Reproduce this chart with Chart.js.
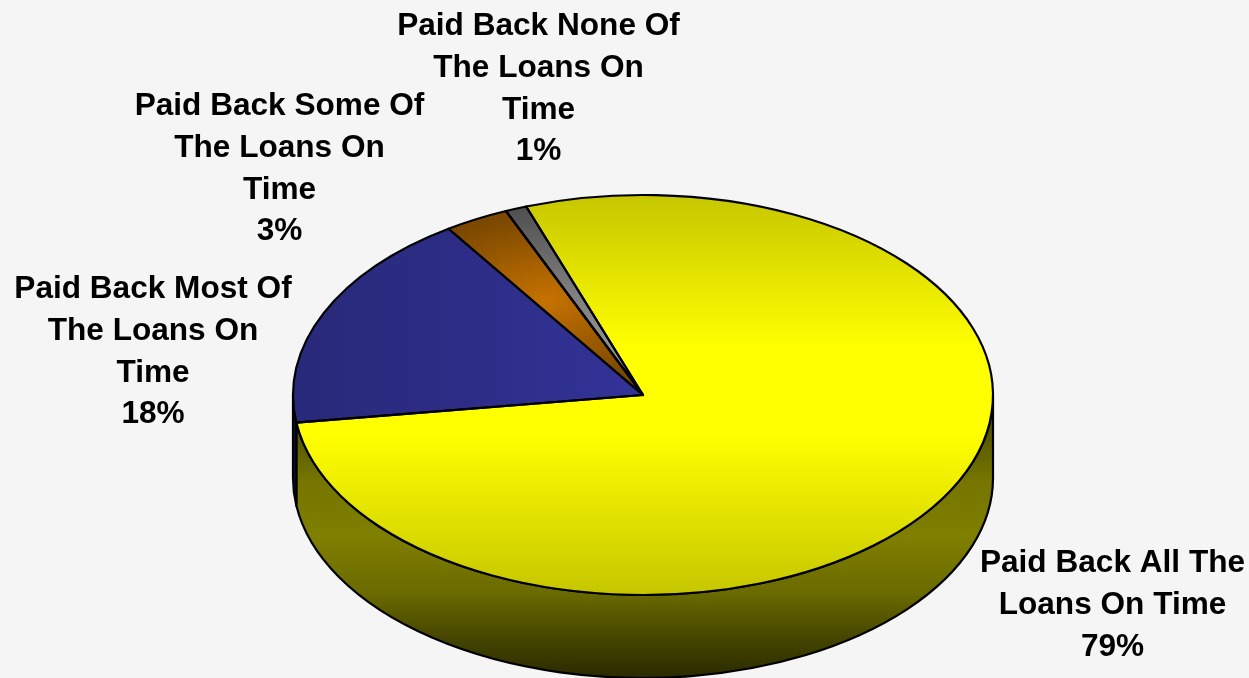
<!DOCTYPE html>
<html>
<head>
<meta charset="utf-8">
<style>
  html, body { margin: 0; padding: 0; background: #f5f5f5; }
  canvas { display: block; }
</style>
<script src="https://cdn.jsdelivr.net/npm/chart.js@4"></script>
</head>
<body>
<canvas id="pie" width="1249" height="678"></canvas>
<script>
// Loan repayment outcomes, drawn as a tilted pie with an extruded rim.
const categories = [
  ['Paid Back All The', 'Loans On Time'],
  ['Paid Back Most Of', 'The Loans On', 'Time'],
  ['Paid Back Some Of', 'The Loans On', 'Time'],
  ['Paid Back None Of', 'The Loans On', 'Time']
];
const shares = [79, 18, 3, 1];

// Label block placement: horizontal centre and vertical centre of the first line.
const labelAnchors = [[1112.5, 563], [153, 289], [279.5, 106], [538.5, 26]];
const LINE_HEIGHT = 41.9;

const TILT = 200 / 350;     // vertical squash of the pie disc
const RIM_DEPTH = 83;       // height of the extruded rim
const OUTLINE = 2.2;

function stops(gradient, list) {
  list.forEach(([at, color]) => gradient.addColorStop(at, color));
  return gradient;
}

// Slice fills live in the squashed drawing space, so y runs over the unsquashed radius.
function sliceFill(context) {
  const chart = context.chart;
  const ctx = chart.ctx;
  const area = chart.chartArea;
  if (!area) return '#888';
  const cx = (area.left + area.right) / 2;
  const cy = (area.top + area.bottom) / 2;
  const r = 350;
  switch (context.dataIndex) {
    case 0:
      return stops(ctx.createLinearGradient(0, cy - r, 0, cy + r), [
        [0, '#c6c600'], [0.38, '#ffff00'], [0.6, '#ffff00'], [1, '#c6c600']
      ]);
    case 1:
      return stops(ctx.createLinearGradient(cx - r, 0, cx, 0), [
        [0, '#29297a'], [0.5, '#2d2d87'], [1, '#333399']
      ]);
    case 2: {
      const oy = cy - 95 / TILT;
      return stops(ctx.createRadialGradient(cx - 96, oy, 0, cx - 96, oy, 150), [
        [0, '#c67200'], [1, '#7a4800']
      ]);
    }
    default:
      return stops(ctx.createLinearGradient(0, cy - r, 0, cy), [
        [0, '#484848'], [0.5, '#808080'], [1, '#a0a0a0']
      ]);
  }
}

function rimFill(ctx, index, cy) {
  const top = cy, bottom = cy + 283;
  if (index === 1) {
    return stops(ctx.createLinearGradient(0, top, 0, bottom), [[0, '#14143c'], [1, '#14143c']]);
  }
  return stops(ctx.createLinearGradient(0, top, 0, bottom), [
    [0, '#3c3c00'], [0.3, '#757500'], [0.5, '#7f7f00'],
    [0.7, '#6a6a00'], [0.86, '#454500'], [1, '#2a2a00']
  ]);
}

const piePerspective = {
  id: 'piePerspective',
  beforeDraw(chart) {
    const { ctx, width, height } = chart;
    ctx.save();
    ctx.fillStyle = '#f5f5f5';
    ctx.fillRect(0, 0, width, height);
    ctx.restore();
  },
  beforeDatasetDraw(chart) {
    const ctx = chart.ctx;
    const arcs = chart.getDatasetMeta(0).data;

    // Rim: only the part of each slice facing the viewer (canvas angles 0 to pi).
    arcs.forEach((arc, index) => {
      const from = Math.max(arc.startAngle, 0);
      const to = Math.min(arc.endAngle, Math.PI);
      if (to <= from) return;
      const rx = arc.outerRadius, ry = rx * TILT;
      ctx.save();
      ctx.beginPath();
      ctx.ellipse(arc.x, arc.y, rx, ry, 0, from, to, false);
      ctx.ellipse(arc.x, arc.y + RIM_DEPTH, rx, ry, 0, to, from, true);
      ctx.closePath();
      ctx.fillStyle = rimFill(ctx, index, arc.y);
      ctx.fill();
      ctx.lineWidth = OUTLINE;
      ctx.lineJoin = 'round';
      ctx.strokeStyle = '#000';
      ctx.stroke();
      ctx.restore();
    });

    // Squash the disc around its centre while the library paints the slices.
    const { x, y } = arcs[0];
    ctx.save();
    ctx.translate(x, y);
    ctx.scale(1, TILT);
    ctx.translate(-x, -y);
  },
  afterDatasetDraw(chart) {
    const ctx = chart.ctx;
    ctx.restore();
    const arcs = chart.getDatasetMeta(0).data;

    // Slice outlines are stroked unsquashed so the line weight stays even.
    ctx.save();
    ctx.strokeStyle = '#000';
    ctx.lineWidth = OUTLINE;
    ctx.lineJoin = 'round';
    arcs.forEach(arc => {
      const rx = arc.outerRadius, ry = rx * TILT;
      ctx.beginPath();
      ctx.moveTo(arc.x, arc.y);
      ctx.ellipse(arc.x, arc.y, rx, ry, 0, arc.startAngle, arc.endAngle, false);
      ctx.closePath();
      ctx.stroke();
    });
    ctx.restore();
  },
  afterDraw(chart) {
    const ctx = chart.ctx;
    ctx.save();
    ctx.fillStyle = '#000';
    ctx.font = 'bold 31.6px "Liberation Sans", Arial, sans-serif';
    ctx.textAlign = 'center';
    ctx.textBaseline = 'middle';
    categories.forEach((lines, i) => {
      const [x, y] = labelAnchors[i];
      [...lines, shares[i] + '%'].forEach((line, n) => {
        ctx.fillText(line, x, y + n * LINE_HEIGHT);
      });
    });
    ctx.restore();
  }
};

new Chart(document.getElementById('pie'), {
  type: 'pie',
  plugins: [piePerspective],
  data: {
    labels: categories.map(lines => lines.join(' ')),
    datasets: [{
      data: shares,
      backgroundColor: sliceFill,
      borderWidth: 0,
      radius: 350,
      clip: false
    }]
  },
  options: {
    responsive: false,
    animation: false,
    events: [],
    rotation: -19.5,
    layout: { padding: { left: 37, right: 0, top: 112, bottom: 0 } },
    plugins: { legend: { display: false }, tooltip: { enabled: false }, title: { display: false } }
  }
});
</script>
</body>
</html>
